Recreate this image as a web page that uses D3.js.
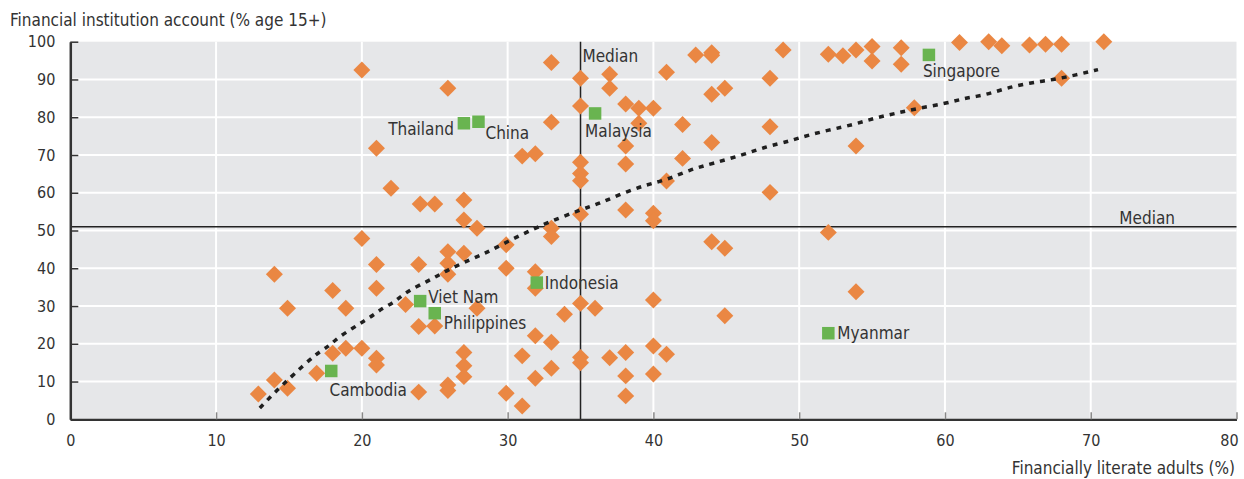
<!DOCTYPE html>
<html>
<head>
<meta charset="utf-8">
<script src="https://cdn.jsdelivr.net/npm/d3@7"></script>
<style>
  html, body { margin: 0; padding: 0; background: #fff; }
  svg text { font-family: "DejaVu Sans Condensed", "Liberation Sans", sans-serif; fill: #333; }
</style>
</head>
<body>
<script>
// ---------------- DATA ----------------
const xTicks = [0, 10, 20, 30, 40, 50, 60, 70, 80];
const yTicks = [0, 10, 20, 30, 40, 50, 60, 70, 80, 90, 100];

// Other economies: financially literate adults (%) and account ownership (%)
const literacy = [
  20.0, 21.0, 22.0, 24.0, 25.0, 27.0, 27.0, 27.9, 20.0, 33.0,
  25.9, 35.0, 37.0, 37.0, 40.9, 42.9, 44.0, 44.0, 48.9, 48.0,
  44.0, 44.9, 35.0, 38.1, 39.0, 40.0, 39.0, 33.0, 42.0, 48.0,
  38.1, 44.0, 31.0, 31.9, 35.0, 38.1, 42.0, 35.0, 35.0, 40.9,
  48.0, 38.1, 40.0, 40.0, 35.0, 33.0, 33.0, 29.9, 44.0, 44.9,
  52.0, 53.0, 53.9, 55.0, 55.0, 57.0, 57.0, 61.0, 63.0, 63.9,
  65.8, 66.9, 68.0, 70.9, 68.0, 57.9, 53.9, 52.0, 53.9, 14.0,
  14.9, 18.0, 18.9, 21.0, 21.0, 23.0, 23.9, 23.9, 18.0, 18.9,
  20.0, 21.0, 21.0, 16.9, 14.0, 14.9, 12.9, 23.9, 25.9, 25.9,
  25.9, 27.0, 29.9, 31.9, 31.9, 25.0, 27.9, 33.9, 35.0, 36.0,
  40.0, 44.9, 31.9, 33.0, 27.0, 27.0, 27.0, 31.0, 33.0, 31.9,
  35.0, 35.0, 37.0, 38.1, 38.1, 38.1, 40.0, 40.0, 40.9, 25.9,
  25.9, 29.9, 31.0
];
const account = [
  92.5, 71.8, 61.2, 57.0, 57.0, 58.1, 52.8, 50.6, 47.9, 94.5,
  87.7, 90.3, 91.4, 87.7, 91.9, 96.5, 97.1, 96.4, 97.8, 90.3,
  86.1, 87.7, 83.0, 83.5, 82.4, 82.4, 78.4, 78.7, 78.1, 77.5,
  72.4, 73.3, 69.7, 70.3, 68.1, 67.6, 69.1, 65.1, 63.2, 63.1,
  60.1, 55.4, 54.6, 52.6, 54.3, 50.6, 48.4, 46.2, 47.0, 45.3,
  96.7, 96.3, 97.8, 98.7, 94.9, 98.4, 94.0, 99.8, 100.0, 98.9,
  99.1, 99.3, 99.3, 100.0, 90.3, 82.5, 72.4, 49.5, 33.8, 38.4,
  29.4, 34.1, 29.4, 41.0, 34.7, 30.4, 41.0, 24.6, 17.5, 18.8,
  18.8, 16.2, 14.4, 12.2, 10.4, 8.2, 6.7, 7.2, 44.4, 41.3,
  38.4, 44.0, 40.0, 39.1, 34.7, 24.7, 29.4, 27.8, 30.7, 29.4,
  31.6, 27.4, 22.1, 20.4, 17.7, 14.2, 11.3, 16.8, 13.5, 10.9,
  16.4, 15.0, 16.3, 17.7, 11.5, 6.2, 19.4, 12.0, 17.2, 9.1,
  7.6, 6.9, 3.5
];

// Highlighted ASEAN economies
const hlNames    = ["Thailand", "China", "Malaysia", "Singapore", "Indonesia", "Viet Nam", "Philippines", "Cambodia", "Myanmar"];
const hlLiteracy = [27.0, 28.0, 36.0, 58.9, 32.0, 24.0, 25.0, 17.9, 52.0];
const hlAccount  = [78.4, 78.8, 81.0, 96.5, 36.2, 31.3, 28.1, 12.8, 22.8];

// Trend (dotted) line
const trendX = [13.0, 14.2, 15.3, 16.9, 17.7, 18.3, 19.4, 20.1, 20.8, 21.4, 22.1, 22.6, 23.3, 24.7, 25.9, 27.4, 28.7, 30.0, 31.4, 32.8, 35.0, 36.4, 37.9, 39.5, 40.9, 42.5, 44.1, 46.2, 47.8, 49.3, 50.1, 52.1, 53.7, 55.2, 56.7, 58.2, 59.9, 61.3, 62.8, 64.2, 65.8, 67.4, 69.0, 70.5];
const trendY = [3.0, 7.8, 11.8, 17.5, 19.2, 21.5, 24.2, 25.9, 27.6, 29.4, 30.7, 32.3, 34.3, 36.9, 39.6, 42.2, 44.4, 47.1, 49.7, 52.2, 55.5, 57.3, 59.9, 62.1, 63.4, 66.1, 67.8, 70.1, 72.3, 73.6, 74.7, 76.7, 78.0, 79.8, 81.1, 82.4, 83.5, 85.0, 85.9, 87.7, 89.1, 89.9, 91.2, 92.6];

const medianX = 35;
const medianY = 51.0;

const yTitle = "Financial institution account (% age 15+)";
const xTitle = "Financially literate adults (%)";
const medianLabel = "Median";

// ---------------- LAYOUT ----------------
const W = 1244, H = 479;
const L = 70.3, R = 1236.5, T = 41.7, B = 419.3;
const FS = "17px", TICKFS = "16px";
const labelOffsets = {
  "Thailand":   {dx: -10, dy: 12, anchor: "end"},
  "China":      {dx: 7, dy: 17.5, anchor: "start"},
  "Malaysia":   {dx: -10, dy: 23.5, anchor: "start"},
  "Singapore":  {dx: -6, dy: 21.7, anchor: "start"},
  "Indonesia":  {dx: 8, dy: 6.3, anchor: "start"},
  "Viet Nam":   {dx: 8, dy: 1.7, anchor: "start"},
  "Philippines":{dx: 9, dy: 16, anchor: "start"},
  "Cambodia":   {dx: -1.7, dy: 25, anchor: "start"},
  "Myanmar":    {dx: 9, dy: 6, anchor: "start"}
};

const svg = d3.select("body").append("svg").attr("width", W).attr("height", H);

const x = d3.scaleLinear().domain([0, 80]).range([L, R]);
const y = d3.scaleLinear().domain([0, 100]).range([B, T]);

// background
svg.append("rect").attr("x", L).attr("y", T).attr("width", R - L).attr("height", B - T).attr("fill", "#e6e7e9");

// grid
svg.append("g").selectAll("line").data(xTicks.filter(d => d > 0 && d < 80)).join("line")
  .attr("x1", d => x(d)).attr("x2", d => x(d)).attr("y1", T).attr("y2", B)
  .attr("stroke", "#fff").attr("stroke-width", 2);
svg.append("g").selectAll("line").data(yTicks.filter(d => d > 0 && d < 100)).join("line")
  .attr("x1", L).attr("x2", R).attr("y1", d => y(d)).attr("y2", d => y(d))
  .attr("stroke", "#fff").attr("stroke-width", 2);

// medians
svg.append("line").attr("x1", x(medianX)).attr("x2", x(medianX)).attr("y1", T).attr("y2", B)
  .attr("stroke", "#222").attr("stroke-width", 1.5);
svg.append("line").attr("x1", L).attr("x2", R).attr("y1", y(medianY)).attr("y2", y(medianY))
  .attr("stroke", "#222").attr("stroke-width", 1.5);

// diamonds
const others = literacy.map((v, i) => ({x: v, y: account[i]}));
const ds = 12;
svg.append("g").selectAll("rect").data(others).join("rect")
  .attr("x", -ds / 2).attr("y", -ds / 2).attr("width", ds).attr("height", ds)
  .attr("transform", d => `translate(${x(d.x)},${y(d.y)}) rotate(45)`)
  .attr("fill", "#ea8743");

// trend line
const trend = trendX.map((v, i) => [v, trendY[i]]);
svg.append("path").datum(trend)
  .attr("d", d3.line().x(d => x(d[0])).y(d => y(d[1])).curve(d3.curveBasis))
  .attr("fill", "none").attr("stroke", "#1f1f1f").attr("stroke-width", 3.5)
  .attr("stroke-dasharray", "5,6");

// highlighted squares
const hl = hlNames.map((n, i) => ({name: n, x: hlLiteracy[i], y: hlAccount[i]}));
const ss = 12.5;
svg.append("g").selectAll("rect").data(hl).join("rect")
  .attr("x", d => x(d.x) - ss / 2).attr("y", d => y(d.y) - ss / 2)
  .attr("width", ss).attr("height", ss).attr("fill", "#69b450");

svg.append("g").selectAll("text").data(hl).join("text")
  .attr("x", d => x(d.x) + labelOffsets[d.name].dx)
  .attr("y", d => y(d.y) + labelOffsets[d.name].dy)
  .attr("text-anchor", d => labelOffsets[d.name].anchor)
  .attr("font-size", FS)
  .text(d => d.name);

// median labels
svg.append("text").attr("x", x(medianX) + 2).attr("y", 62).attr("font-size", FS).text(medianLabel);
svg.append("text").attr("x", 1175).attr("y", y(medianY) - 3).attr("text-anchor", "end").attr("font-size", FS).text(medianLabel);

// axes
const tickFont = "DejaVu Sans Condensed, Liberation Sans, sans-serif";
const xAxis = svg.append("g").attr("transform", `translate(0,${B})`)
  .call(d3.axisBottom(x).tickValues(xTicks).tickSizeInner(-7).tickSizeOuter(0).tickPadding(15).tickFormat(d3.format("d")));
xAxis.select(".domain").attr("stroke", "#333").attr("stroke-width", 2.2);
xAxis.selectAll(".tick line").attr("stroke", "#888").attr("stroke-width", 1.5);
xAxis.selectAll(".tick text").attr("font-size", TICKFS).attr("fill", "#333").attr("font-family", tickFont);
xAxis.selectAll(".tick").filter(d => d === 80).select("text").attr("text-anchor", "end").attr("dx", "0.1em");

const yAxis = svg.append("g").attr("transform", `translate(${L},0)`)
  .call(d3.axisLeft(y).tickValues(yTicks).tickSizeInner(-8).tickSizeOuter(0).tickPadding(15).tickFormat(d3.format("d")));
yAxis.select(".domain").attr("stroke", "#333").attr("stroke-width", 2.5);
yAxis.selectAll(".tick line").attr("stroke", "#333").attr("stroke-width", 1.5);
yAxis.selectAll(".tick text").attr("font-size", TICKFS).attr("fill", "#333").attr("font-family", tickFont);

// titles
svg.append("text").attr("x", 10).attr("y", 26).attr("font-size", FS).text(yTitle);
svg.append("text").attr("x", 1235).attr("y", 474).attr("text-anchor", "end").attr("font-size", FS).text(xTitle);
</script>
</body>
</html>
